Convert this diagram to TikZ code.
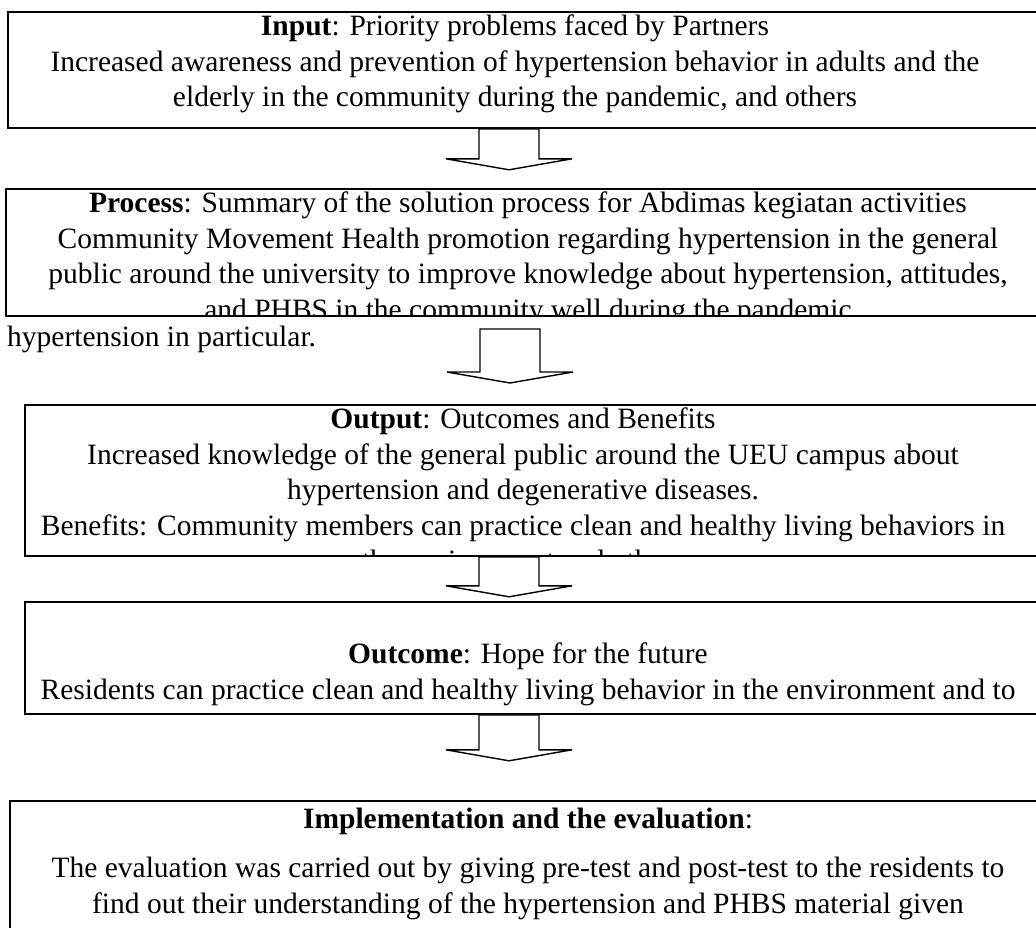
\documentclass[tikz,border=0pt]{standalone}
\usepackage{fontspec}
\setmainfont{Liberation Serif}
\usepackage{tikz}

\tikzset{
  riquadro/.style={draw, line width=1.8pt, rectangle, anchor=north west,
    inner sep=0pt, minimum width=1100pt},
  testo/.style={align=center, anchor=north, inner sep=0pt,
    font=\fontsize{29.5}{35.5}\selectfont},
  freccia/.style={draw, line width=1.4pt, line join=miter},
  pics/blocco/.style={code={
    \draw[freccia] (-30,0) -- (-30,#1) -- (-63,#1) -- (0,#1+11)
      -- (63,#1) -- (30,#1) -- (30,0) -- cycle;
  }},
}

\begin{document}
\begin{tikzpicture}[x=1pt, y=-1pt]
        \useasboundingbox (0,0) rectangle (1036,927);
        \clip (0,0) rectangle (1036,927);

        % Riquadri dello schema
        \node[riquadro, minimum height=116pt] (input)   at (7,11)  {};
        \node[riquadro, minimum height=127pt] (process) at (5,188) {};
        \node[riquadro, minimum height=151pt] (output)  at (24,404) {};
        \node[riquadro, minimum height=112pt] (outcome) at (24,601) {};
        \node[riquadro, minimum height=200pt] (impl)    at (9,800) {};

        % Testi (tagliati dal bordo del riquadro)
        \begin{scope}
            \clip (input.north west) rectangle (input.south east);
            \node[testo] (inputtxt) at (515,15) {\textbf{Input}: Priority problems faced by Partners\\
                Increased awareness and prevention of hypertension behavior in adults and the\\
                elderly in the community during the pandemic, and others};
        \end{scope}
        \begin{scope}
            \clip (process.north west) rectangle (process.south east);
            \node[testo] (processtxt) at (528,192) {\textbf{Process}: Summary of the solution process for Abdimas kegiatan activities\\
                Community Movement Health promotion regarding hypertension in the general\\
                public around the university to improve knowledge about hypertension, attitudes,\\
                and PHBS in the community well during the pandemic};
        \end{scope}
        \node[testo, anchor=north west] (resto) at (7,326) {hypertension in particular.};
        \begin{scope}
            \clip (output.north west) rectangle (output.south east);
            \node[testo] (outputtxt) at (523,408) {\textbf{Output}: Outcomes and Benefits\\
                Increased knowledge of the general public around the UEU campus about\\
                hypertension and degenerative diseases.\\
                Benefits: Community members can practice clean and healthy living behaviors in\\
                the environment and others};
        \end{scope}
        \begin{scope}
            \clip (outcome.north west) rectangle (outcome.south east);
            \node[testo] (outcometxt) at (528,643) {\textbf{Outcome}: Hope for the future\\
                Residents can practice clean and healthy living behavior in the environment and to};
        \end{scope}
        \begin{scope}
            \clip (impl.north west) rectangle (impl.south east);
            \node[testo] (impltxt) at (528,808) {\textbf{Implementation and the evaluation}:\\[13.5pt]
                The evaluation was carried out by giving pre-test and post-test to the residents to\\
                find out their understanding of the hypertension and PHBS material given};
        \end{scope}

        % Frecce a blocco
        \coordinate (asse) at (509,0);
        \coordinate (f2) at (510,329);
        \pic at (input.south -| asse)   {blocco=30};
        \pic at (f2)                    {blocco=43};
        \pic at (output.south -| asse)  {blocco=29};
        \pic at (outcome.south -| asse) {blocco=35};
    \end{tikzpicture}
\end{document}
